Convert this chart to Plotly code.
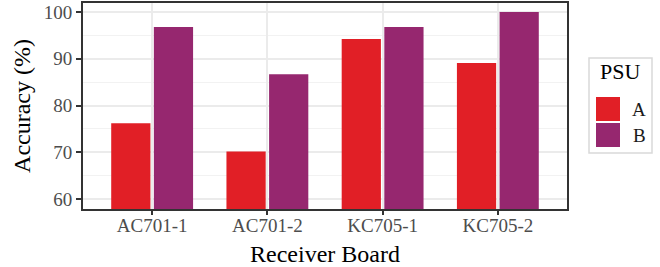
import plotly.graph_objects as go

boards = ["AC701-1", "AC701-2", "KC705-1", "KC705-2"]
psu_names = ["A", "B"]
acc_a = [76.2, 70.2, 94.2, 89.1]
acc_b = [96.8, 86.7, 96.8, 100.0]
colors = ["#e11f26", "#96276f"]
y_ticks = [60, 70, 80, 90, 100]

FONT = "Liberation Serif"
L, R, T, B = 83, 93, 3, 58
W, H = 660, 267
pw, ph = W - L - R, H - T - B

fig = go.Figure()
for name, vals, col in zip(psu_names, [acc_a, acc_b], colors):
    fig.add_trace(go.Bar(x=boards, y=vals, name=name, marker_color=col,
                         marker_line_width=0, showlegend=False))

def px2x(px):
    return (px - L) / pw

def px2y(py):
    return (H - B - py) / ph

shapes = [dict(type="rect", xref="paper", yref="paper",
               x0=px2x(589), x1=px2x(652), y0=px2y(153), y1=px2y(58),
               line=dict(color="#d9d9d9", width=1.5), fillcolor="white")]
annotations = [dict(text="PSU", xref="paper", yref="paper", x=px2x(620), y=px2y(72),
                    showarrow=False, font=dict(family=FONT, size=22, color="black"),
                    xanchor="center", yanchor="middle")]
for i, (name, col) in enumerate(zip(psu_names, colors)):
    top = 97 + i * 26
    shapes.append(dict(type="rect", xref="paper", yref="paper",
                       x0=px2x(596), x1=px2x(620), y0=px2y(top + 24), y1=px2y(top),
                       line=dict(width=0), fillcolor=col))
    annotations.append(dict(text=name, xref="paper", yref="paper", x=px2x(639),
                            y=px2y(top + 12), showarrow=False,
                            font=dict(family=FONT, size=19, color="#1a1a1a"),
                            xanchor="center", yanchor="middle"))

fig.update_layout(
    width=W, height=H,
    margin=dict(l=L, r=R, t=T, b=B),
    paper_bgcolor="white", plot_bgcolor="white",
    barmode="group", bargap=0.26, bargroupgap=0.08,
    font=dict(family=FONT, color="#4d4d4d"),
    shapes=shapes, annotations=annotations,
    showlegend=False,
)
fig.update_xaxes(
    range=[-0.6, 3.6], automargin=False,
    showgrid=True, gridcolor="#ebebeb", gridwidth=1.6,
    showline=True, mirror=True, linecolor="#333333", linewidth=2,
    ticks="outside", ticklen=4, tickcolor="#333333", tickwidth=1.5,
    ticklabelstandoff=-6,
    tickfont=dict(family=FONT, size=19, color="#4d4d4d"),
    title=dict(text="Receiver Board", font=dict(family=FONT, size=24, color="black"), standoff=10),
    zeroline=False,
)
fig.update_yaxes(
    range=[57.9, 101.9], automargin=False,
    tickvals=y_ticks,
    showgrid=True, gridcolor="#ebebeb", gridwidth=1.6,
    minor=dict(dtick=5, showgrid=True, gridcolor="#f2f2f2", gridwidth=0.8),
    showline=True, mirror=True, linecolor="#333333", linewidth=2,
    ticks="outside", ticklen=5, tickcolor="#333333", tickwidth=1.5,
    tickfont=dict(family=FONT, size=19, color="#4d4d4d"),
    title=dict(text="Accuracy (%)", font=dict(family=FONT, size=24, color="black"), standoff=6),
    zeroline=False,
)

fig.write_html("out.html", config={"displayModeBar": False},
               post_script="document.body.style.margin='0';document.body.style.overflow='hidden';")
